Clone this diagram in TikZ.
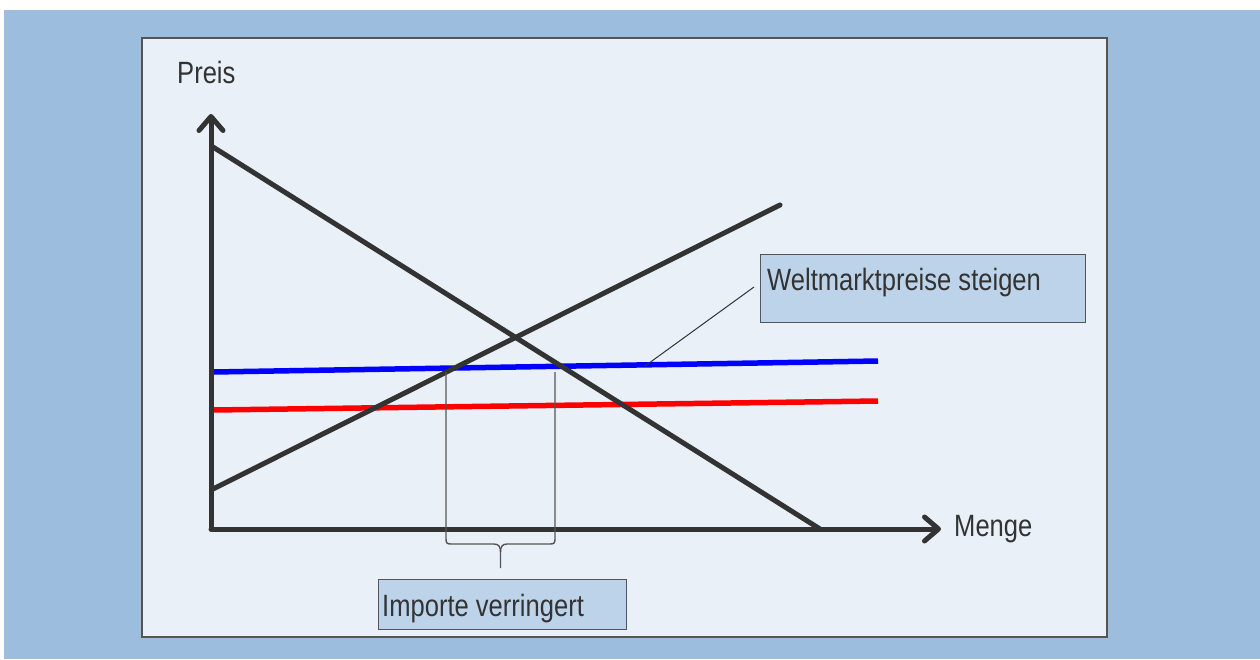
\documentclass[tikz,border=0pt]{standalone}
\usepackage{fontspec}
\setmainfont{Liberation Sans}[FakeStretch=0.83]
\usetikzlibrary{arrows.meta}
\definecolor{outerblue}{RGB}{157,189,223}
\definecolor{panelfill}{RGB}{234,240,248}
\definecolor{boxfill}{RGB}{189,211,234}
\definecolor{ink}{RGB}{51,51,51}
\definecolor{frame}{RGB}{85,85,85}
\tikzset{
  curve/.style={draw=ink, line width=5pt, line cap=round},
  axisline/.style={draw=ink, line width=5pt, line cap=round,
    -{Straight Barb[length=14pt,width=24pt,line cap=round,line join=round]}},
  label/.style={anchor=base west, inner sep=0pt, text=ink,
    font=\fontsize{30.8}{35}\selectfont},
  labelbox/.style={draw=frame, line width=1pt, fill=boxfill, inner sep=0pt},
  thinline/.style={draw=frame, line width=1.4pt},
}
\begin{document}
\begin{tikzpicture}[x=1pt,y=-1pt]
\useasboundingbox (0,0) rectangle (1260,659);
\fill[white] (0,0) rectangle (1260,659);
\fill[outerblue] (4,10) rectangle (1260,659);
\draw[fill=panelfill, draw=frame, line width=1.5pt] (142,38) rectangle (1107,637);

% coordinates
\coordinate (O) at (211,529);
\coordinate (ytip) at (211,114);
\coordinate (xtip) at (941,529);
\coordinate (d1) at (213,147);
\coordinate (d2) at (820,529);
\coordinate (s1) at (213,489);
\coordinate (s2) at (780,205);
\coordinate (b1) at (213,372);
\coordinate (b2) at (878,361);
\coordinate (r1) at (213,410);
\coordinate (r2) at (878,401);

% red and blue price lines
\draw[red, line width=5.5pt] (r1) -- (r2);
\draw[blue, line width=5.5pt] (b1) -- (b2);

% demand and supply
\draw[curve] (d1) -- (d2);
\draw[curve] (s1) -- (s2);

% axes
\draw[axisline] (O) -- (ytip);
\draw[axisline] (O) -- (xtip);

% brace
\coordinate (bl) at (446,372);
\coordinate (br) at (555,372);
\coordinate (btip) at (500.5,568);
\draw[thinline] (bl) -- (446,539) .. controls (446,543) and (447,544) .. (451,544)
  -- (494,544) .. controls (499,544) and (500.5,547) .. (500.5,552) -- (btip);
\draw[thinline] (br) -- (555,539) .. controls (555,543) and (554,544) .. (550,544)
  -- (507,544) .. controls (502,544) and (500.5,547) .. (500.5,552);

% labels
\node[label] (preis) at (177,83) {Preis};
\node[label] (menge) at (954,536) {Menge};

\node[labelbox, minimum width=325pt, minimum height=68.5pt] (wbox) at (923.2,288.3) {};
\node[label] (wtext) at (767,290) {Weltmarktpreise steigen};
\node[labelbox, minimum width=248pt, minimum height=50pt] (ibox) at (502,604.3) {};
\node[label] (itext) at (382,616) {Importe verringert};

% pointer line
\coordinate (p1) at (645,366);
\coordinate (p2) at (754,287);
\draw[draw=ink, line width=1pt] (p1) -- (p2);
\end{tikzpicture}
\end{document}
